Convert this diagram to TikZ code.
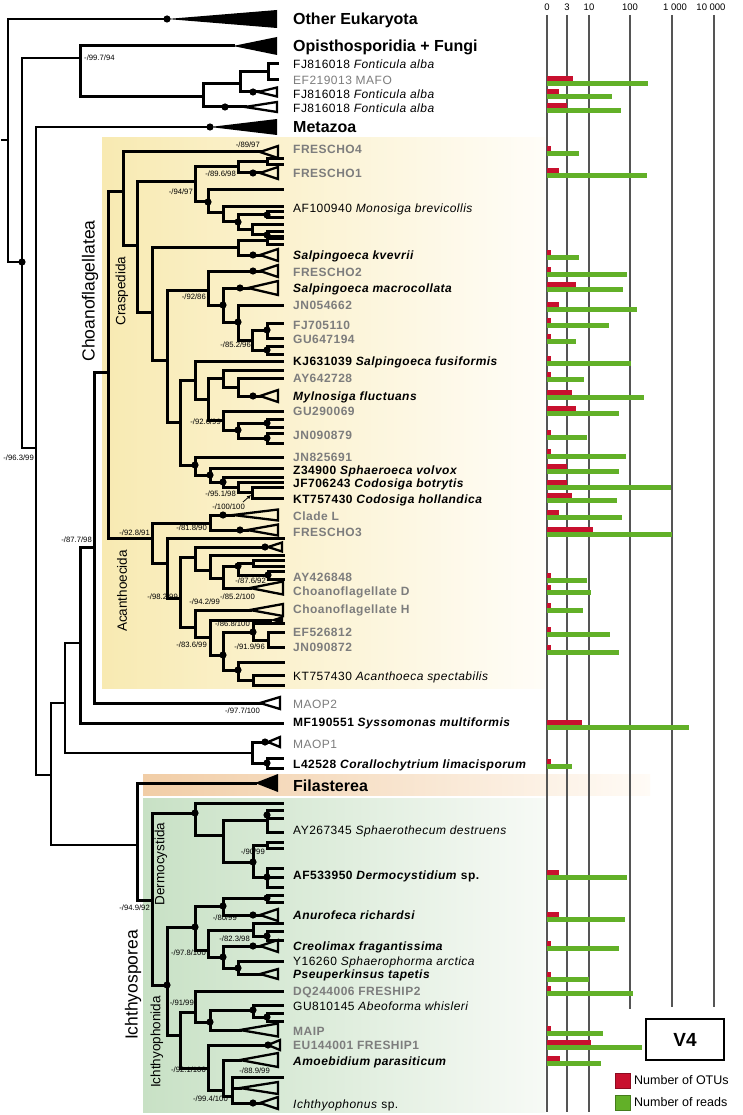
\documentclass[tikz,border=0pt]{standalone}
\usepackage{fontspec}
\setmainfont{Liberation Sans}
\newfontfamily\tipf[LetterSpace=4]{Liberation Sans}
\usetikzlibrary{arrows.meta}
\definecolor{otu}{RGB}{200,16,46}
\definecolor{rds}{RGB}{98,176,40}
\definecolor{gtx}{RGB}{125,125,125}
\definecolor{axc}{RGB}{85,85,85}
\definecolor{choA}{RGB}{248,234,178}
\definecolor{choM}{RGB}{253,246,222}
\definecolor{choB}{RGB}{255,253,248}
\definecolor{ichA}{RGB}{200,225,197}
\definecolor{ichM}{RGB}{228,240,226}
\definecolor{ichB}{RGB}{247,250,246}
\definecolor{filA}{RGB}{241,205,166}
\definecolor{filB}{RGB}{255,251,246}
\newcommand\hb[3]{\draw[tr] (#1,#3) -- (#2,#3);}
\newcommand\vb[3]{\draw[tr] (#1,#2) -- (#1,#3);}
\newcommand\dt[2]{\fill (#1,#2) circle (3.6);}
\newcommand\otri[4]{\draw[tri] (#1,#3) -- (#2,#3-#4) -- (#2,#3+#4) -- cycle;}
\newcommand\btri[4]{\fill (#1,#3) -- (#2,#3-#4) -- (#2,#3+#4) -- cycle;}
\newcommand\slab[3]{\node[sl] at (#1,#2) {#3};}
\newcommand\slabw[3]{\node[sl,anchor=west] at (#1,#2) {#3};}
\newcommand\bars[3]{\fill[otu] (547,#1) rectangle (#2,#1+5); \fill[rds] (547,#1+5) rectangle (#3,#1+10);}
\begin{document}
\begin{tikzpicture}[x=1pt,y=-1pt,
  tr/.style={line width=3pt,line cap=rect},
  trt/.style={line width=2.3pt,line cap=rect},
  tri/.style={line width=2.3pt,line join=miter},
  sl/.style={anchor=east,inner sep=0pt,font=\fontsize{7.7}{9}\selectfont},
  tipl/.style={anchor=base west,inner sep=0pt,yshift=-4.3pt,font=\tipf\fontsize{12}{14}\selectfont},
  tipb/.style={tipl,font=\tipf\fontsize{12}{14}\selectfont\bfseries},
  tipg/.style={tipb,text=gtx},
  tipgr/.style={tipl,text=gtx},
  big/.style={anchor=base west,inner sep=0pt,yshift=-5.7pt,font=\fontsize{16}{18}\selectfont\bfseries},
  grp/.style={rotate=90,inner sep=0pt,font=\fontsize{17.5}{20}\selectfont},
  sgrp/.style={rotate=90,inner sep=0pt,font=\fontsize{13.5}{15}\selectfont},
  axl/.style={line width=1.5pt,draw=axc},
  axt/.style={inner sep=0pt,font=\fontsize{9.5}{11}\selectfont}]
\useasboundingbox (0,0) rectangle (743,1115);
\fill[white] (0,0) rectangle (743,1115);
% backgrounds
\shade[left color=choA,middle color=choM,right color=choB] (102,138) rectangle (545,688);
\shade[left color=filA,right color=filB] (143,774) rectangle (650,795);
\shade[left color=ichA,middle color=ichM,right color=ichB] (143,798) rectangle (545,1112);
% axis
\foreach \x/\t in {547/0,567/3,589/10,630/100,675/1 000,711/10 000} \node[axt] at (\x,7) {\t};
\draw[axl] (547,15) -- (547,1112);
\draw[axl] (567,15) -- (567,1112);
\draw[axl] (589,15) -- (589,1112);
\draw[axl] (630,15) -- (630,1009);
\draw[axl] (672,15) -- (672,1007);
\draw[axl] (714,15) -- (714,1007);
% bars
\bars{76}{573}{648}
\bars{89}{559}{612}
\bars{103}{567}{621}
\bars{146}{551}{579}
\bars{168}{559}{647}
\bars{250}{551}{579}
\bars{267}{551}{627}
\bars{282}{576}{623}
\bars{302}{559}{637}
\bars{318}{551}{609}
\bars{334}{551}{576}
\bars{356}{551}{631}
\bars{372}{551}{584}
\bars{390}{572}{644}
\bars{406}{576}{619}
\bars{430}{551}{587}
\bars{449}{551}{626}
\bars{464}{567}{619}
\bars{480}{567}{671}
\bars{493}{572}{617}
\bars{510}{559}{622}
\bars{527}{593}{672}
\bars{573}{551}{587}
\bars{585}{551}{591}
\bars{603}{551}{583}
\bars{627}{551}{610}
\bars{645}{551}{619}
\bars{720}{582}{689}
\bars{759}{551}{572}
\bars{870}{559}{627}
\bars{912}{559}{625}
\bars{941}{551}{619}
\bars{972}{551}{589}
\bars{986}{551}{633}
\bars{1026}{551}{603}
\bars{1040}{591}{642}
\bars{1056}{560}{601}
% legend
\node[draw,line width=2pt,minimum width=78pt,minimum height=41pt,font=\fontsize{19}{21}\selectfont\bfseries] (v4) at (685,1039.5) {V4};
\fill[otu,draw=otu!70!black,line width=0.5pt] (615,1073) rectangle (630,1088);
\fill[rds,draw=rds!70!black,line width=0.5pt] (615,1095) rectangle (630,1110);
\node[anchor=west,inner sep=0pt,font=\fontsize{12.5}{14}\selectfont] at (634,1080.5) {Number of OTUs};
\node[anchor=west,inner sep=0pt,font=\fontsize{12.5}{14}\selectfont] at (634,1102.5) {Number of reads};
% ---------- tree: outer part
\draw[trt] (2,140) -- (8,140);
\draw[trt] (167,19) -- (8,19) -- (8,262) -- (22,262);
\dt{167}{19} \btri{167}{277}{19}{9}
\dt{22}{262}
\draw[trt] (80,58) -- (22,58) -- (22,448) -- (36,448);
\draw[tr] (233,46) -- (80,46) -- (80,97) -- (203,97);
\btri{233}{277}{46}{9}
\vb{203}{84}{107}
\hb{203}{240}{84} \vb{240}{72}{92}
\hb{240}{268}{72} \vb{268}{64}{80} \hb{268}{277}{64} \hb{268}{277}{80}
\hb{240}{258}{92} \dt{253}{92} \otri{258}{277}{92}{4.5}
\hb{203}{245}{107} \dt{225}{107} \otri{245}{277}{107}{5}
\slabw{84}{58}{-/99.7/94}
\draw[trt] (210,127) -- (36,127) -- (36,775) -- (51,775);
\dt{210}{127} \btri{210}{277}{127}{8}
\slab{34}{458}{-/96.3/99}
\draw[trt] (65,703) -- (51,703) -- (51,845) -- (137,845);
\draw[trt] (80,643) -- (65,643) -- (65,753) -- (252,753);
\draw[tr] (94,547) -- (80,547) -- (80,723) -- (282,723);
\draw[tr] (108,372) -- (94,372) -- (94,703) -- (260,703);
\otri{260}{280}{703}{6}
\vb{108}{192}{538}
\slab{92}{540}{-/87.7/98}
\slab{260}{711}{-/97.7/100}
\vb{252}{742}{763}
\hb{252}{268}{742} \dt{265}{742} \otri{268}{280}{742}{5}
\hb{252}{267}{763} \dt{267}{763} \vb{267}{758}{768} \hb{267}{282}{758} \hb{267}{282}{768}
% ---------- Craspedida
\hb{108}{123}{192} \vb{123}{152}{245}
\hb{123}{260}{152} \otri{260}{278}{152}{6} \slab{260}{145}{-/89/97}
\hb{123}{137}{245} \vb{137}{182}{312}
\hb{137}{195}{182} \vb{195}{167}{202} \slab{193}{192}{-/94/97}
\hb{195}{238}{167} \vb{238}{162}{173} \slab{236}{174}{-/89.6/98}
\hb{238}{267}{162} \vb{267}{159}{165} \hb{267}{282}{159} \hb{267}{282}{165}
\hb{238}{260}{173} \dt{253}{173} \otri{260}{278}{173}{6}
\hb{195}{208}{202} \dt{208}{202} \vb{208}{190}{213}
\hb{208}{282}{190}
\hb{208}{223}{213} \vb{223}{207}{222}
\hb{223}{282}{207}
\hb{223}{238}{222} \dt{238}{222} \vb{238}{215}{230}
\hb{238}{267}{215} \dt{267}{215} \vb{267}{212}{218} \hb{267}{282}{212} \hb{267}{282}{218}
\hb{238}{252}{230} \vb{252}{225}{235} \hb{252}{282}{225} \hb{252}{267}{235} \dt{267}{235} \vb{267}{232}{238} \hb{267}{282}{232} \hb{267}{282}{238}
\hb{137}{152}{312} \vb{152}{247}{360}
\hb{152}{238}{247} \vb{238}{240}{255}
\hb{238}{267}{240} \vb{267}{237}{244} \hb{267}{282}{237} \hb{267}{282}{244}
\hb{238}{260}{255} \dt{253}{255} \otri{260}{278}{255}{6}
\hb{152}{167}{360} \vb{167}{290}{422}
\hb{167}{208}{290} \vb{208}{271}{305} \slab{206}{297}{-/92/86}
\hb{208}{260}{271} \dt{253}{271} \otri{260}{278}{271}{6}
\hb{208}{223}{305} \dt{223}{305} \vb{223}{288}{322}
\hb{223}{248}{288} \dt{240}{288} \otri{248}{278}{288}{7}
\hb{223}{238}{322} \dt{238}{322} \vb{238}{305}{340}
\hb{238}{282}{305}
\hb{238}{252}{340} \vb{252}{330}{350} \slab{251}{345}{-/85.2/96}
\hb{252}{267}{330} \dt{267}{330} \vb{267}{323}{338} \hb{267}{282}{323} \hb{267}{282}{338}
\hb{252}{267}{350} \dt{267}{350} \vb{267}{346}{354} \hb{267}{282}{346} \hb{267}{282}{354}
\hb{167}{180}{422} \vb{180}{380}{465}
\hb{180}{195}{380} \vb{195}{361}{399}
\hb{195}{282}{361}
\hb{195}{208}{399} \vb{208}{378}{420}
\hb{208}{223}{378} \vb{223}{370}{387} \hb{223}{282}{370}
\hb{223}{238}{387} \vb{238}{378}{396} \hb{238}{282}{378}
\hb{238}{260}{396} \dt{253}{396} \otri{260}{278}{396}{6}
\hb{208}{223}{420} \vb{223}{411}{430} \slab{221}{422}{-/92.6/99}
\hb{223}{282}{411}
\hb{223}{238}{430} \dt{238}{430} \vb{238}{423}{438}
\hb{238}{267}{423} \dt{267}{423} \vb{267}{419}{427} \hb{267}{282}{419} \hb{267}{282}{427}
\hb{238}{267}{438} \dt{267}{438} \vb{267}{433}{443} \hb{267}{282}{433} \hb{267}{282}{443}
\hb{180}{195}{465} \dt{195}{465} \vb{195}{457}{475}
\hb{195}{282}{457}
\hb{195}{210}{475} \dt{210}{475} \vb{210}{468}{482}
\hb{210}{282}{468}
\hb{210}{223}{482} \dt{223}{482} \vb{223}{477}{487}
\hb{223}{282}{477}
\hb{223}{238}{487} \vb{238}{482}{492}
\hb{238}{282}{482}
\hb{238}{252}{492} \vb{252}{487}{498} \hb{252}{282}{487} \hb{252}{282}{498}
\slab{236}{494}{-/95.1/98}
\slab{245}{507}{-/100/100}
\draw[line width=0.8pt,-{Latex[length=4pt,width=4pt]}] (243,502) -- (251,495);
% ---------- Acanthoecida
\hb{108}{152}{538} \vb{152}{523}{563} \slab{150}{533}{-/92.8/91}
\hb{152}{210}{523} \vb{210}{515}{530} \slab{207}{528}{-/81.8/90}
\hb{210}{233}{515} \dt{223}{515} \otri{233}{278}{515}{5.5}
\hb{210}{247}{530} \dt{240}{530} \otri{247}{278}{530}{5.5}
\hb{152}{167}{563} \vb{167}{538}{598}
\hb{167}{283}{538}
\hb{167}{180}{598} \vb{180}{557}{627} \slab{178}{597}{-/98.2/99}
\hb{180}{195}{557} \vb{195}{547}{570}
\hb{195}{265}{547} \dt{265}{547} \otri{268}{282}{547}{4.5}
\hb{195}{210}{570} \vb{210}{555}{578}
\hb{210}{283}{555}
\hb{210}{223}{578} \vb{223}{566}{588}
\hb{223}{238}{566} \dt{238}{566} \vb{238}{563}{575}
\hb{238}{253}{563} \vb{253}{560}{566} \hb{253}{283}{560} \hb{253}{283}{566}
\hb{238}{268}{575} \dt{268}{575} \vb{268}{571}{579} \hb{268}{283}{571} \hb{268}{283}{579}
\slab{266}{581}{-/87.6/92}
\hb{223}{250}{588} \otri{250}{283}{588}{6.5}
\slab{255}{597}{-/85.2/100}
\hb{180}{195}{627} \vb{195}{610}{637}
\hb{195}{250}{610} \otri{250}{283}{610}{6}
\slab{220}{602}{-/94.2/99}
\hb{195}{210}{637} \vb{210}{620}{655}
\hb{210}{270}{620} \btri{270}{283}{620}{4}
\hb{210}{223}{655} \dt{223}{655} \vb{223}{632}{670}
\slab{207}{645}{-/83.6/99}
\hb{223}{253}{632} \dt{253}{632} \vb{253}{623}{640}
\hb{253}{283}{623} \slab{250}{624}{-/86.8/100}
\hb{253}{268}{640} \vb{268}{632}{647} \hb{268}{283}{632} \hb{268}{283}{647}
\slab{265}{647}{-/91.9/96}
\hb{223}{238}{670} \dt{238}{670} \vb{238}{662}{680}
\hb{238}{283}{662}
\hb{238}{253}{680} \vb{253}{675}{685} \hb{253}{283}{675} \hb{253}{283}{685}
% ---------- Filasterea + Ichthyosporea
\vb{137}{783}{900}
\hb{137}{255}{783} \btri{255}{278}{783}{9}
\hb{137}{152}{900} \vb{152}{813}{985}
\slab{150}{908}{-/94.9/92}
% Dermocystida
\hb{152}{195}{813} \dt{195}{813} \vb{195}{803}{835}
\hb{195}{282}{803}
\hb{195}{223}{835} \vb{223}{820}{862}
\hb{223}{267}{820} \dt{267}{815} \vb{267}{810}{832} \hb{267}{282}{810} \hb{267}{282}{818} \hb{267}{282}{832}
\hb{223}{253}{862} \dt{253}{862} \vb{253}{845}{877}
\hb{253}{267}{845} \vb{267}{842}{848} \hb{267}{282}{842} \hb{267}{282}{848}
\slab{265}{852}{-/90/99}
\hb{253}{267}{877} \dt{267}{877} \vb{267}{868}{887} \hb{267}{282}{868} \hb{267}{282}{877} \hb{267}{282}{887}
% Ichthyophonida
\hb{152}{167}{985} \dt{167}{985} \vb{167}{927}{1035}
\hb{167}{195}{927} \dt{195}{927} \vb{195}{906}{950}
\hb{195}{223}{906} \dt{223}{906} \vb{223}{898}{915}
\hb{223}{267}{898} \dt{267}{898} \vb{267}{895}{902} \hb{267}{282}{895} \hb{267}{282}{902}
\hb{223}{260}{915} \dt{253}{915} \otri{260}{278}{915}{6}
\slab{237}{918}{-/80/99}
\hb{195}{208}{950} \vb{208}{930}{957}
\hb{208}{253}{930} \vb{253}{923}{936} \hb{253}{282}{923}
\hb{253}{267}{936} \dt{267}{936} \vb{267}{931}{940} \hb{267}{282}{931} \hb{267}{282}{940}
\slab{250}{939}{-/82.3/98}
\hb{208}{223}{957} \dt{223}{957} \vb{223}{946}{968}
\hb{223}{260}{946} \dt{253}{946} \otri{260}{278}{946}{6}
\hb{223}{238}{968} \dt{238}{968} \vb{238}{961}{974}
\hb{238}{282}{961}
\hb{238}{260}{974} \otri{260}{278}{974}{5}
\slab{206}{953}{-/97.8/100}
\hb{167}{180}{1035} \vb{180}{1012}{1068}
\slab{194}{1003}{-/91/99}
\hb{180}{195}{1012} \vb{195}{991}{1022}
\hb{195}{282}{991}
\hb{195}{210}{1022} \dt{210}{1022} \vb{210}{1010}{1030}
\hb{210}{253}{1010} \dt{253}{1010} \vb{253}{1005}{1017}
\hb{253}{282}{1005}
\hb{253}{267}{1017} \dt{267}{1017} \vb{267}{1013}{1021} \hb{267}{282}{1013} \hb{267}{282}{1021}
\hb{210}{240}{1030} \otri{240}{278}{1030}{6.5}
\hb{180}{208}{1068} \vb{208}{1045}{1090}
\slab{206}{1070}{-/92.1/100}
\hb{208}{268}{1045} \dt{268}{1045} \otri{268}{280}{1045}{5}
\hb{208}{223}{1090} \vb{223}{1060}{1096}
\hb{223}{240}{1060} \otri{240}{278}{1060}{7}
\hb{223}{232}{1096} \vb{232}{1077}{1103}
\hb{232}{282}{1077}
\hb{232}{240}{1088} \otri{240}{278}{1088}{6}
\hb{232}{260}{1103} \dt{253}{1103} \otri{260}{278}{1103}{6}
\slab{270}{1071}{-/88.9/99}
\slab{228}{1099}{-/99.4/100}
% ---------- group labels
\node[grp] at (90,291) {Choanoflagellatea};
\node[sgrp] at (122,291) {Craspedida};
\node[sgrp] at (122,591) {Acanthoecida};
\node[grp] at (133,985) {Ichthyosporea};
\node[sgrp] at (161,864) {Dermocystida};
\node[sgrp] at (157,1042) {Ichthyophonida};
% ---------- tip labels
\node[big] at (293,19) {Other Eukaryota};
\node[big] at (293,46) {Opisthosporidia + Fungi};
\node[tipl] at (293,64) {FJ816018 \textit{Fonticula alba}};
\node[tipgr] at (293,80) {EF219013 MAFO};
\node[tipl] at (293,94) {FJ816018 \textit{Fonticula alba}};
\node[tipl] at (293,108) {FJ816018 \textit{Fonticula alba}};
\node[big] at (293,127) {Metazoa};
\node[tipg] at (293,149) {FRESCHO4};
\node[tipg] at (293,173) {FRESCHO1};
\node[tipl] at (293,208) {AF100940 \textit{Monosiga brevicollis}};
\node[tipb] at (293,255) {\textit{Salpingoeca kvevrii}};
\node[tipg] at (293,272) {FRESCHO2};
\node[tipb] at (293,288) {\textit{Salpingoeca macrocollata}};
\node[tipg] at (293,305) {JN054662};
\node[tipg] at (293,325) {FJ705110};
\node[tipg] at (293,339) {GU647194};
\node[tipb] at (293,361) {KJ631039 \textit{Salpingoeca fusiformis}};
\node[tipg] at (293,378) {AY642728};
\node[tipb] at (293,396) {\textit{Mylnosiga fluctuans}};
\node[tipg] at (293,411) {GU290069};
\node[tipg] at (293,435) {JN090879};
\node[tipg] at (293,457) {JN825691};
\node[tipb] at (293,470) {Z34900 \textit{Sphaeroeca volvox}};
\node[tipb] at (293,483) {JF706243 \textit{Codosiga botrytis}};
\node[tipb] at (293,499) {KT757430 \textit{Codosiga hollandica}};
\node[tipg] at (293,516) {Clade L};
\node[tipg] at (293,532) {FRESCHO3};
\node[tipg] at (293,577) {AY426848};
\node[tipg] at (293,591) {Choanoflagellate D};
\node[tipg] at (293,609) {Choanoflagellate H};
\node[tipg] at (293,632) {EF526812};
\node[tipg] at (293,647) {JN090872};
\node[tipl] at (293,676) {KT757430 \textit{Acanthoeca spectabilis}};
\node[tipgr] at (293,704) {MAOP2};
\node[tipb] at (293,722) {MF190551 \textit{Syssomonas multiformis}};
\node[tipgr] at (293,744) {MAOP1};
\node[tipb] at (293,764) {L42528 \textit{Corallochytrium limacisporum}};
\node[big] at (293,786) {Filasterea};
\node[tipl] at (293,830) {AY267345 \textit{Sphaerothecum destruens}};
\node[tipb] at (293,875) {AF533950 \textit{Dermocystidium} sp.};
\node[tipb] at (293,915) {\textit{Anurofeca richardsi}};
\node[tipb] at (293,946) {\textit{Creolimax fragantissima}};
\node[tipl] at (293,961) {Y16260 \textit{Sphaerophorma arctica}};
\node[tipb] at (293,974) {\textit{Pseuperkinsus tapetis}};
\node[tipg] at (293,991) {DQ244006 FRESHIP2};
\node[tipl] at (293,1006) {GU810145 \textit{Abeoforma whisleri}};
\node[tipg] at (293,1031) {MAIP};
\node[tipg] at (293,1045) {EU144001 FRESHIP1};
\node[tipb] at (293,1061) {\textit{Amoebidium parasiticum}};
\node[tipl] at (293,1104) {\textit{Ichthyophonus} sp.};
\end{tikzpicture}
\end{document}
